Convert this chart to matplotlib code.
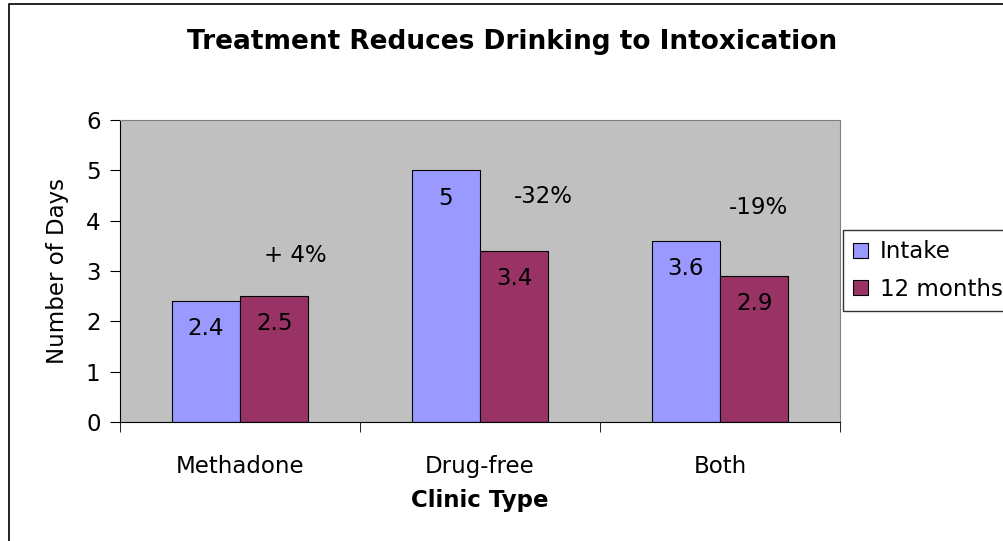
import numpy as np
import matplotlib.pyplot as plt
from matplotlib.patches import Rectangle

# Chart data
clinics = ['Methadone', 'Drug-free', 'Both']
intake = [2.4, 5, 3.6]
months12 = [2.5, 3.4, 2.9]
changes = ['+ 4%', '-32%', '-19%']
change_y = [3.3, 4.49, 4.27]  # height of the change labels
change_dx = [0.09, 0.12, 0.02]  # shift right of the 12 month bar

plt.rcParams['font.family'] = ['DejaVu Sans']

fig = plt.figure(figsize=(10.04, 5.41), dpi=100)
ax = fig.add_axes([120 / 1004, 119 / 541, 720 / 1004, 302 / 541])
ax.set_facecolor('#C0C0C0')

fs = 16.5
x = np.arange(len(clinics))
w = 0.285
b1 = ax.bar(x - w / 2, intake, w, color='#9999FF', edgecolor='black', linewidth=0.8, label='Intake')
b2 = ax.bar(x + w / 2, months12, w, color='#993366', edgecolor='black', linewidth=0.8, label='12 months')

# value labels just inside the bar tops
for bars, vals in ((b1, intake), (b2, months12)):
    for bar, v in zip(bars, vals):
        ax.text(bar.get_x() + bar.get_width() / 2, v - 0.55, f'{v:g}',
                ha='center', va='center', fontsize=fs)

for i in range(len(clinics)):
    ax.text(x[i] + w / 2 + change_dx[i], change_y[i], changes[i],
            ha='center', va='center', fontsize=fs)

ax.set_xlim(-0.5, 2.5)
ax.set_ylim(0, 6)
ax.set_yticks(range(7))
ax.set_xticks(x)
ax.set_xticklabels(clinics)
ax.set_xticks([-0.5, 0.5, 1.5, 2.5], minor=True)
ax.tick_params(axis='x', which='major', length=0, pad=24, labelsize=fs)
ax.tick_params(axis='x', which='minor', length=7, direction='out')
ax.tick_params(axis='y', length=7, direction='out', pad=7, labelsize=fs)

for s in ('top', 'right'):
    ax.spines[s].set_color('#808080')
ax.spines['left'].set_color('black')
ax.spines['bottom'].set_color('black')

ax.set_ylabel('Number of Days', fontsize=fs, labelpad=12)
ax.set_xlabel('Clinic Type', fontsize=fs, fontweight='bold', labelpad=8)
fig.text(512 / 1004, 1 - 42 / 541, 'Treatment Reduces Drinking to Intoxication',
         ha='center', va='center', fontsize=19, fontweight='bold')

leg = fig.legend(handles=[b1, b2], loc='upper left', bbox_to_anchor=(843 / 1004, 1 - 230 / 541),
                 fontsize=fs, frameon=True, fancybox=False, borderpad=0.45,
                 handlelength=0.62, handleheight=0.62, handletextpad=0.55, labelspacing=0.62,
                 borderaxespad=0)
leg.get_frame().set_edgecolor('black')
leg.get_frame().set_linewidth(1)

# chart border
fig.patches.append(Rectangle((9 / 1004, -0.1), 1.2, 1 - 4 / 541 + 0.1, transform=fig.transFigure,
                             fill=False, edgecolor='black', linewidth=1.2))

fig.savefig('out.png', dpi=100)
